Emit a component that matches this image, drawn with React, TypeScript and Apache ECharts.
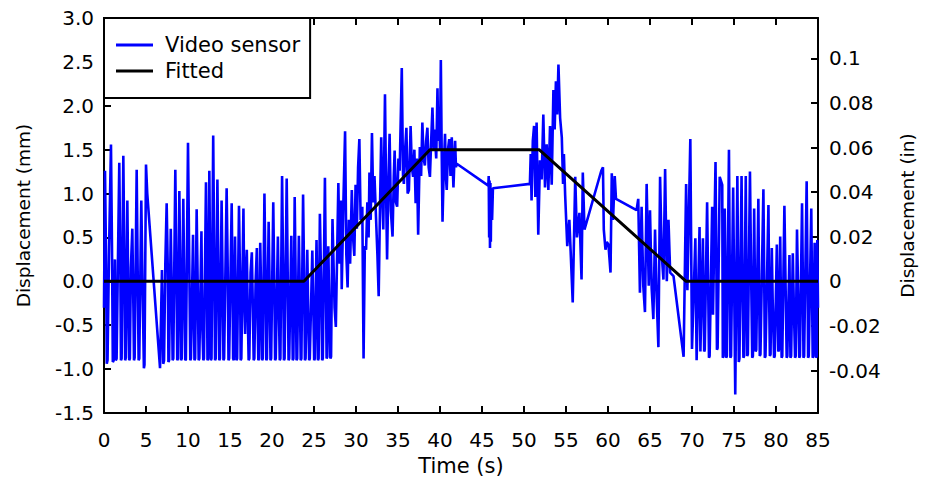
import React, { useEffect, useRef } from "react";
import * as echarts from "echarts";

// Time (s) / displacement (mm) pairs, by phase
const videoRest1: [number, number][] = [
  [0.0, -0.3], [0.12, 1.26], [0.25, 0.2], [0.33, -0.94], [0.42, -0.9], [0.6, 0.35], [0.83, 1.56], [0.95, 0.4],
  [1.05, -0.92], [1.15, -0.9], [1.3, 0.25], [1.4, -0.9], [1.5, -0.88], [1.82, 1.35], [1.95, 0.1], [2.02, -0.9],
  [2.1, -0.88], [2.3, 1.43], [2.42, 0.3], [2.52, -0.9], [2.6, -0.87], [2.78, 0.92], [2.9, -0.2], [3.0, -0.9],
  [3.08, -0.88], [3.2, 0.15], [3.37, 0.6], [3.5, -0.3], [3.57, -0.9], [3.65, -0.87], [3.89, 1.27], [4.0, 0.2],
  [4.12, -0.9], [4.2, -0.88], [4.44, 0.92], [4.6, -0.1], [4.75, -0.99], [4.82, -0.95], [5.0, 1.33], [5.15, 1.0],
  [6.67, -0.99], [6.9, 0.13], [7.05, -0.94], [7.15, -0.9], [7.3, 0.2], [7.46, 0.89], [7.6, 0.1], [7.67, -0.92],
  [7.75, -0.9], [7.95, 0.6], [8.1, -0.3], [8.17, -0.9], [8.25, -0.88], [8.49, 1.27], [8.6, 0.3], [8.72, -0.9],
  [8.8, -0.88], [8.97, 1.03], [9.1, -0.1], [9.17, -0.9], [9.25, -0.88], [9.44, 0.94], [9.55, 0.0], [9.67, -0.9],
  [9.75, -0.89], [10.0, 1.58], [10.15, 0.2], [10.27, -0.9], [10.35, -0.88], [10.6, 0.53], [10.7, -0.4], [10.77, -0.9],
  [10.85, -0.88], [11.03, 0.82], [11.15, 0.0], [11.27, -0.9], [11.35, -0.88], [11.6, 0.57], [11.7, -0.5], [11.82, -0.9],
  [11.9, -0.88], [12.14, 1.13], [12.25, 0.1], [12.32, -0.9], [12.4, -0.88], [12.54, 1.26], [12.65, 0.0], [12.72, -0.9],
  [12.8, -0.88], [13.0, 1.66], [13.12, 0.3], [13.22, -0.9], [13.3, -0.88], [13.5, 1.16], [13.62, 0.1], [13.72, -0.9],
  [13.8, -0.88],
];

const videoRest2: [number, number][] = [
  [14.0, 0.92], [14.12, 0.0], [14.22, -0.9], [14.3, -0.88], [14.6, 1.06], [14.72, 0.2], [14.82, -0.9], [14.9, -0.88],
  [15.2, 0.89], [15.3, 0.0], [15.37, -0.88], [15.45, -0.9], [15.6, 0.51], [15.7, -0.3], [15.77, -0.9], [15.85, -0.88],
  [16.07, 0.86], [16.2, 0.0], [16.27, -0.9], [16.35, -0.88], [16.6, 0.83], [16.7, -0.2], [16.8, -0.6], [16.9, 0.1],
  [17.0, 0.36], [17.12, -0.4], [17.22, -0.9], [17.3, -0.88], [17.45, 0.1], [17.6, 0.33], [17.72, -0.3], [17.82, -0.9],
  [17.9, -0.88], [18.05, 0.0], [18.2, 0.38], [18.3, -0.5], [18.37, -0.9], [18.45, -0.88], [18.6, 0.44], [18.72, -0.2],
  [18.82, -0.9], [18.9, -0.88], [19.1, 1.0], [19.22, 0.1], [19.32, -0.9], [19.4, -0.88], [19.6, 0.68], [19.72, -0.1],
  [19.82, -0.9], [19.9, -0.88], [20.15, 0.9], [20.27, 0.0], [20.37, -0.9], [20.45, -0.88], [20.7, 0.51], [20.82, -0.3],
  [20.92, -0.9], [21.0, -0.88], [21.2, 1.2], [21.32, 0.2], [21.42, -0.9], [21.5, -0.88], [21.75, 1.17], [21.9, -0.2],
  [21.97, -0.9], [22.05, -0.88], [22.3, 0.52], [22.4, -0.3], [22.47, -0.9], [22.55, -0.88], [22.7, 0.96], [22.82, 0.0],
  [22.92, -0.9], [23.0, -0.88], [23.2, 0.52], [23.32, -0.2], [23.42, -0.9], [23.5, -0.88], [23.7, 0.99], [23.82, 0.1],
  [23.92, -0.9], [24.0, -0.88], [24.2, 0.36], [24.32, -0.4], [24.42, -0.9], [24.5, -0.88], [24.8, 0.35], [24.92, -0.3],
  [25.02, -0.9], [25.1, -0.88], [25.3, 0.47], [25.4, -0.2], [25.47, -0.9], [25.55, -0.88], [25.7, 0.77], [25.85, 0.0],
  [25.97, -0.9], [26.05, -0.88], [26.3, 1.18], [26.4, 0.2], [26.5, -0.88], [26.58, -0.86], [26.7, 0.4], [26.82, -0.3],
  [26.95, -0.88], [27.03, -0.86], [27.2, 0.71], [27.45, -0.3], [27.6, -0.52], [27.9, 1.12], [28.05, 0.2], [28.2, 0.92],
];

const videoRamp: [number, number][] = [
  [28.3, -0.09], [28.5, 0.9], [28.7, 1.71], [28.85, 0.3], [29.0, -0.07], [29.15, 0.7], [29.3, 0.2], [29.5, 1.04],
  [29.65, 0.5], [29.8, 0.29], [29.95, 1.1], [30.1, 0.6], [30.25, 1.3], [30.4, 1.62], [30.55, 0.7], [30.75, 0.85],
  [30.9, -0.88], [31.05, 0.4], [31.2, 0.36], [31.35, 0.9], [31.5, 0.5], [31.6, 1.24], [31.75, 0.7], [31.9, 1.69],
  [32.05, 0.9], [32.2, 1.2], [32.35, 0.81], [32.55, 0.3], [32.7, -0.17], [32.85, 0.8], [33.0, 1.64], [33.15, 0.9],
  [33.25, 0.59], [33.45, 2.13], [33.6, 0.9], [33.7, 0.25], [33.85, 1.1], [34.0, 1.68], [34.15, 0.8], [34.35, 0.51],
  [34.5, 1.2], [34.6, 1.49], [34.75, 0.9], [34.9, 0.85], [35.05, 1.4], [35.2, 1.26], [35.45, 2.43], [35.6, 1.2],
  [35.7, 1.11], [35.85, 1.5], [36.0, 1.75], [36.15, 1.0], [36.3, 1.04], [36.5, 1.77], [36.65, 1.3], [36.8, 1.19],
  [36.95, 1.5], [37.1, 0.89], [37.25, 1.4], [37.4, 0.53], [37.6, 1.53], [37.75, 1.2], [37.9, 1.81], [38.05, 1.4],
  [38.2, 1.32], [38.35, 1.6], [38.5, 1.75], [38.65, 1.3], [38.8, 1.19], [38.95, 1.6], [39.1, 1.98], [39.25, 1.5],
  [39.35, 1.73], [39.55, 1.4], [39.7, 2.2], [39.8, 1.6], [39.9, 1.98], [40.0, 1.5], [40.1, 2.52], [40.2, 1.5],
  [40.3, 0.68], [40.45, 1.3], [40.6, 1.68], [40.7, 1.2], [40.8, 1.04], [40.95, 1.5], [41.1, 1.62], [41.25, 1.2],
  [41.4, 1.64], [41.6, 1.07], [41.8, 1.6], [41.9, 1.3], [42.0, 1.34],
];

const videoHold: [number, number][] = [
  [45.75, 1.09], [45.8, 1.2], [45.85, 0.5], [45.9, 1.15], [45.95, 0.38], [46.0, 1.12], [46.05, 0.45], [46.1, 1.0],
  [46.2, 0.7], [46.3, 1.06], [50.7, 1.11], [50.8, 1.45], [50.9, 0.92], [51.05, 1.6], [51.2, 1.77], [51.35, 0.96],
  [51.5, 1.81], [51.7, 0.53], [51.9, 1.38],
];

const videoDescent: [number, number][] = [
  [52.1, 1.16], [52.3, 1.9], [52.5, 1.07], [52.7, 1.56], [52.9, 1.04], [53.1, 1.77], [53.3, 1.1], [53.5, 2.18],
  [53.65, 1.73], [53.8, 2.28], [53.95, 1.9], [54.1, 2.47], [54.3, 1.86], [54.5, 1.64], [54.65, 1.11], [54.75, 1.45],
  [54.9, 0.98], [55.15, 0.4], [55.4, 0.7], [55.55, 0.35], [55.8, -0.24], [56.1, 1.19], [56.3, 0.5], [56.6, 0.78],
  [56.85, 0.02], [57.0, 1.24], [57.2, 0.59], [59.2, 1.26], [59.4, 1.3], [59.5, 0.59], [59.7, 0.36], [59.85, 0.45],
  [60.05, 0.42], [60.3, 0.1], [60.45, 1.23], [60.6, 0.7], [60.8, 1.2], [60.95, 0.94], [63.4, 0.81], [63.6, 0.94],
  [63.8, -0.13], [64.0, 0.85], [64.2, -0.05], [64.4, -0.35], [64.6, 1.11], [64.85, -0.05], [65.0, 0.81], [65.2, -0.08],
  [65.4, -0.43], [65.6, 0.59], [65.8, -0.2], [66.0, -0.75], [66.2, 1.19], [66.4, 0.3], [66.6, 0.02], [66.8, 1.28],
  [67.0, 0.0], [67.2, 0.7], [67.4, 0.1], [67.8, 0.06], [69.0, -0.86], [69.3, 1.11], [69.45, -0.1], [69.8, 1.62],
  [70.0, -0.77], [70.4, 0.49], [70.55, -0.9], [70.9, 0.62], [71.0, -0.8],
];

const videoRest3: [number, number][] = [
  [71.3, 0.49], [71.45, -0.8], [71.52, -0.78], [71.8, 0.9], [71.92, 0.0], [72.02, -0.87], [72.1, -0.85], [72.4, 0.85],
  [72.5, -0.38], [72.8, 1.36], [72.9, 0.2], [72.97, -0.78], [73.05, -0.76], [73.3, 1.19], [73.6, 1.1], [73.67, -0.87],
  [73.75, -0.85], [73.9, 0.83], [74.0, -0.1], [74.07, -0.87], [74.15, -0.85], [74.4, 1.5], [74.5, 0.1], [74.57, -0.87],
  [74.65, -0.85], [74.9, 1.07], [75.15, -1.29], [75.4, 1.2], [75.5, 0.0], [75.57, -0.92], [75.65, -0.88], [75.9, 1.2],
  [76.0, 0.1], [76.12, -0.87], [76.2, -0.85], [76.4, 1.2], [76.5, -0.2], [76.57, -0.85], [76.65, -0.83], [76.9, 1.25],
  [77.05, 0.0], [77.17, -0.87], [77.25, -0.85], [77.4, 0.83], [77.5, -0.1], [77.57, -0.8], [77.65, -0.78], [77.9, 0.94],
  [78.0, -0.2], [78.07, -0.85], [78.15, -0.83], [78.5, 1.05], [78.6, 0.0], [78.67, -0.87], [78.75, -0.85], [79.1, 0.87],
  [79.2, -0.3], [79.27, -0.85], [79.35, -0.83], [79.5, 0.38], [79.6, -0.2], [79.77, -0.87], [79.85, -0.85], [80.1, 0.42],
  [80.27, -0.8], [80.35, -0.78], [80.5, 0.51], [80.6, -0.3], [80.67, -0.87], [80.75, -0.85], [81.0, 0.86], [81.15, -0.1],
  [81.27, -0.87], [81.35, -0.85], [81.6, 0.3], [81.72, -0.87], [81.8, -0.85], [82.0, 0.32], [82.15, -0.4], [82.27, -0.87],
  [82.35, -0.85], [82.5, 0.59], [82.65, -0.2], [82.77, -0.87], [82.85, -0.85], [83.1, 0.89], [83.2, 0.0], [83.27, -0.87],
  [83.35, -0.85], [83.65, 1.14], [83.75, 0.1], [83.82, -0.87], [83.9, -0.85], [84.2, 0.83], [84.3, -0.2], [84.37, -0.87],
  [84.45, -0.85], [84.6, 0.44], [84.77, -0.87], [84.85, -0.85], [84.92, 0.47], [85.0, -0.3],
];

const fittedPoints: [number, number][] = [
  [0, 0], [23.8, 0], [38.8, 1.5], [51.8, 1.5], [69.3, 0], [85, 0],
];

const inchTicks = [-0.04, -0.02, 0, 0.02, 0.04, 0.06, 0.08, 0.1];
const MM_PER_IN = 25.4;
const Y_MIN_MM = -1.5;
const Y_MAX_MM = 3.0;

const FONT = "'DejaVu Sans', 'Liberation Sans', Arial, sans-serif";

export default function App() {
  const ref = useRef<HTMLDivElement>(null);

  useEffect(() => {
    if (!ref.current) return;
    const chart = echarts.init(ref.current, null, { renderer: "svg" });
    const videoData = [
      ...videoRest1,
      ...videoRest2,
      ...videoRamp,
      ...videoHold,
      ...videoDescent,
      ...videoRest3,
    ];
    const axisLine = { show: true, onZero: false, lineStyle: { color: "#000", width: 2 } };
    const tick = { show: true, inside: true, length: 7, lineStyle: { color: "#000", width: 2 } };
    chart.setOption({
      animation: false,
      backgroundColor: "#fff",
      textStyle: { fontFamily: FONT, color: "#000" },
      grid: { left: 104, right: 112, top: 18, bottom: 66 },
      legend: {
        orient: "vertical",
        left: 104,
        top: 18,
        padding: [16.5, 10, 16.5, 12],
        itemGap: 5,
        itemWidth: 37,
        itemHeight: 3,
        icon: "rect",
        borderColor: "#000",
        borderWidth: 2,
        backgroundColor: "#fff",
        textStyle: { fontFamily: FONT, fontSize: 21, color: "#000", padding: [0, 0, 0, 7] },
        data: ["Video sensor", "Fitted"],
      },
      xAxis: [
        {
          type: "value",
          min: 0,
          max: 85,
          interval: 5,
          position: "bottom",
          axisLine,
          axisTick: tick,
          splitLine: { show: false },
          axisLabel: { color: "#000", fontSize: 20, margin: 17, fontFamily: FONT },
          name: "Time (s)",
          nameLocation: "middle",
          nameGap: 42,
          nameTextStyle: { fontSize: 21, color: "#000", fontFamily: FONT },
        },
        {
          type: "value",
          min: 0,
          max: 85,
          interval: 5,
          position: "top",
          axisLine,
          axisTick: tick,
          splitLine: { show: false },
          axisLabel: { show: false },
        },
      ],
      yAxis: [
        {
          type: "value",
          min: Y_MIN_MM,
          max: Y_MAX_MM,
          interval: 0.5,
          position: "left",
          axisLine,
          axisTick: tick,
          splitLine: { show: false },
          axisLabel: {
            color: "#000",
            fontSize: 20,
            margin: 10,
            fontFamily: FONT,
            formatter: (v: number) => v.toFixed(1),
          },
          name: "Displacement (mm)",
          nameLocation: "middle",
          nameGap: 71,
          nameTextStyle: { fontSize: 18.5, color: "#000", fontFamily: FONT },
        },
        {
          type: "value",
          min: Y_MIN_MM / MM_PER_IN,
          max: Y_MAX_MM / MM_PER_IN,
          position: "right",
          axisLine,
          axisTick: { ...tick, customValues: inchTicks },
          splitLine: { show: false },
          axisLabel: {
            color: "#000",
            fontSize: 20,
            margin: 11,
            fontFamily: FONT,
            customValues: inchTicks,
            formatter: (v: number) => String(Math.round(v * 100) / 100),
          },
          name: "Displacement (in)",
          nameLocation: "middle",
          nameGap: 80,
          nameTextStyle: { fontSize: 18.5, color: "#000", fontFamily: FONT },
        },
      ],
      series: [
        {
          name: "Video sensor",
          type: "line",
          xAxisIndex: 0,
          yAxisIndex: 0,
          data: videoData,
          symbol: "none",
          showSymbol: false,
          lineStyle: { color: "#0000ff", width: 2.6 },
          itemStyle: { color: "#0000ff" },
          z: 2,
        },
        {
          name: "Fitted",
          type: "line",
          xAxisIndex: 0,
          yAxisIndex: 0,
          data: fittedPoints,
          symbol: "none",
          showSymbol: false,
          lineStyle: { color: "#000", width: 3 },
          itemStyle: { color: "#000" },
          z: 3,
        },
      ],
    });
    return () => chart.dispose();
  }, []);

  return (
    <div
      ref={ref}
      style={{ position: "fixed", left: 0, top: 0, width: 930, height: 481, background: "#fff" }}
    />
  );
}
